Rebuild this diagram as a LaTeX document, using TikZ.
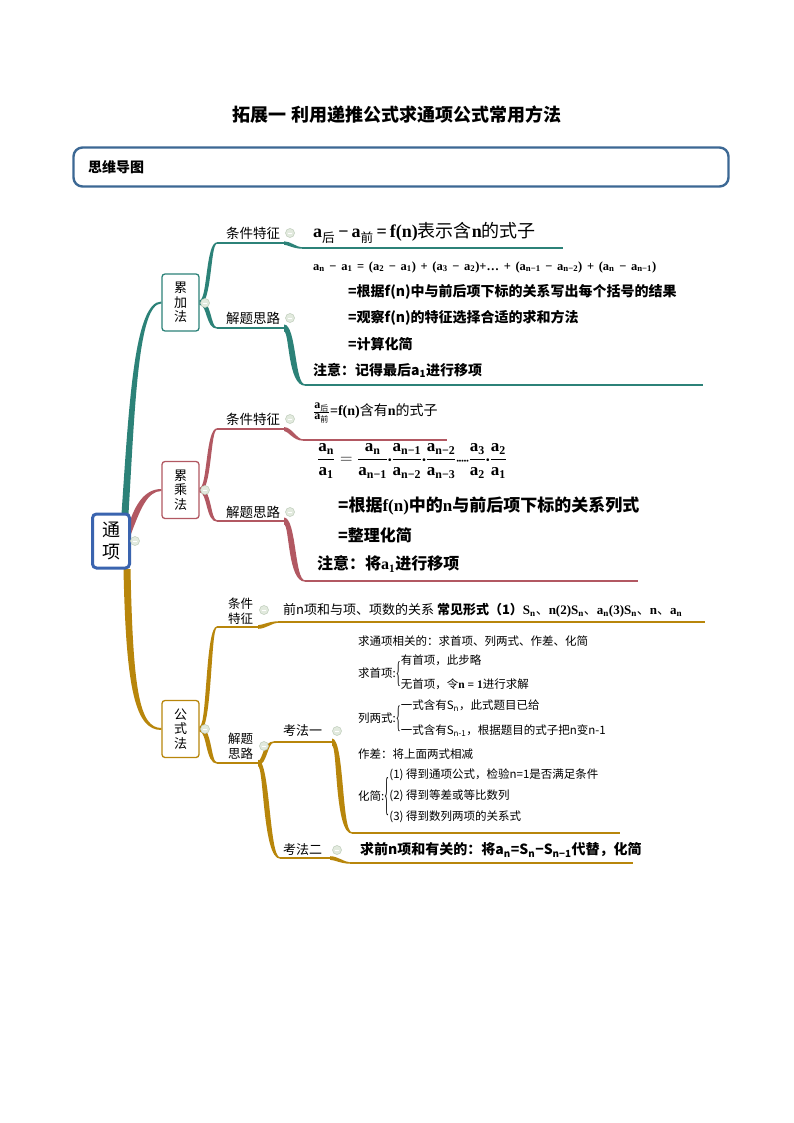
\documentclass[tikz,border=0pt]{standalone}
\usepackage{fontspec}
\usepackage{graphicx}
\setmainfont{Noto Sans CJK SC}
\newfontfamily\tms{Liberation Serif}
\usetikzlibrary{calc,backgrounds}
\newcommand\tb[1]{{\tms\bfseries #1}}
\newcommand\sbs[1]{\textsubscript{#1}}
\newcommand\an[1]{\mbox{\tb{a\sbs{#1}}}}
\newcommand\fsz[2]{\fontsize{#1}{#2}\selectfont}
\newcommand\mdot{\mbox{\fsz{10}{11}\tms\bfseries •}}
\newcommand\bigbr[1]{$\vcenter{\hbox{\scalebox{0.9}[#1]{\tms\{}}}$}
\newcommand\brlines[1]{$\vcenter{\hbox{\begin{tabular}{@{}l@{}}#1\end{tabular}}}$}
\definecolor{cteal}{RGB}{44,130,120}
\definecolor{cred}{RGB}{178,88,98}
\definecolor{cgold}{RGB}{184,134,11}
\definecolor{cblue}{RGB}{58,100,175}
\definecolor{chead}{RGB}{60,104,148}
\definecolor{cdot}{RGB}{226,234,222}
\definecolor{cdotb}{RGB}{190,204,186}
% tapered branch: color, from, to, c1 dx, c2 dx, half width, sign (1 up, -1 down)
\newcommand\tbr[7]{%
 \fill[#1] ($(#2)+(0,{-(#7)*(#6)})$) .. controls ($(#2)+({(#4)-(#6)},{-(#7)*(#6)})$) and ($(#3)+({(#5)-(#6)},{-(#7)*0.7})$) .. ($(#3)+(0,{-(#7)*0.7})$) -- ($(#3)+(0,{(#7)*0.7})$) .. controls ($(#3)+({(#5)+(#6)},{(#7)*0.7})$) and ($(#2)+({(#4)+(#6)},{(#7)*(#6)})$) .. ($(#2)+(0,{(#7)*(#6)})$) -- cycle;}
\tikzset{
 mapbox/.style={draw=#1, line width=1.3pt, rounded corners=3pt, fill=white, minimum width=37pt, minimum height=57pt, inner sep=0pt, align=center, font=\fsz{13}{14.5}},
 lbl/.style={inner sep=0pt, anchor=west, font=\fsz{13.5}{15}},
 txt/.style={inner sep=0pt, anchor=west},
 dot/.style={circle, minimum size=9pt, inner sep=0pt, fill=cdot, draw=cdotb, line width=0.5pt, path picture={\draw[white, line width=0.9pt] ([xshift=-2.4pt]path picture bounding box.center) -- ([xshift=2.4pt]path picture bounding box.center);}},
 uline/.style={draw=#1, line width=1.4pt},
}
\begin{document}
\begin{tikzpicture}[x=1pt,y=-1pt]
\useasboundingbox (0,0) rectangle (794,1123);
% title and header
\node[font=\fsz{18}{20}\bfseries, inner sep=0pt] (title) at (397,115) {拓展一 利用递推公式求通项公式常用方法};
\node[draw=chead, line width=2.4pt, rounded corners=9pt, fill=white, minimum width=655pt, minimum height=39pt, inner sep=0pt] (hdr) at (401,167) {};
\node[txt, font=\fsz{14}{16}\bfseries] (hdrt) at (88,167) {思维导图};
% root and main boxes
\node[draw=cblue, line width=3pt, rounded corners=4pt, fill=white, minimum width=37pt, minimum height=54pt, inner sep=0pt, align=center, font=\fsz{18}{22}] (tx) at (111,541) {通\\项};
\node[mapbox=cteal] (ljf) at (180.5,302.5) {累\\加\\法};
\node[mapbox=cred] (lcf) at (180.5,490) {累\\乘\\法};
\node[mapbox=cgold] (gsf) at (180.5,729) {公\\式\\法};
% coordinates
\coordinate (tT) at (125,514);
\coordinate (aA) at (217,243); \coordinate (aAe) at (284,243); \coordinate (aAl) at (302,248); \coordinate (aAf) at (563,248);
\coordinate (aB) at (217,328); \coordinate (aBe) at (284,328); \coordinate (aBl) at (305,385); \coordinate (aBf) at (703,385);
\coordinate (tR) at (129,528);
\coordinate (mA) at (217,429); \coordinate (mAe) at (284,429); \coordinate (mAl) at (303,440); \coordinate (mAf) at (447,440);
\coordinate (mB) at (217,521); \coordinate (mBe) at (284,521); \coordinate (mBl) at (305,581); \coordinate (mBf) at (638,581);
\coordinate (tG) at (127,569);
\coordinate (gA) at (217,627); \coordinate (gAe) at (258,627); \coordinate (gAl) at (278,622); \coordinate (gAf) at (705,622);
\coordinate (gB) at (217,763); \coordinate (gBe) at (258,763);
\coordinate (k1) at (274,742); \coordinate (k1e) at (332,742); \coordinate (k1l) at (352,833); \coordinate (k1f) at (620,833);
\coordinate (k2) at (280,858); \coordinate (k2e) at (330,858); \coordinate (k2l) at (350,863); \coordinate (k2f) at (633,863);
% labels
\node[lbl] (la1) at (226,233) {条件特征};
\node[lbl] (la2) at (226,318) {解题思路};
\node[lbl] (lm1) at (226,419) {条件特征};
\node[lbl] (lm2) at (226,512) {解题思路};
\node[inner sep=0pt, align=center, font=\fsz{12.5}{15.5}] (lg1) at (240.5,611) {条件\\特征};
\node[inner sep=0pt, align=center, font=\fsz{12.5}{15.5}] (lg2) at (240.5,746) {解题\\思路};
\node[lbl, font=\fsz{13}{15}] (lk1) at (283,731) {考法一};
\node[lbl, font=\fsz{13}{15}] (lk2) at (283,850) {考法二};
% teal texts
\node[txt] (t1) at (313,233) {\fsz{18}{20}\tb{a}\sbs{后}\,\tb{−}\,\tb{a}\sbs{前}\,\tb{=}\,\tb{f(n)}表示含\tb{n}的式子};
\node[txt] (t2) at (313,267) {\fsz{12.5}{14}\tms\bfseries\hbox to 343pt{a\sbs{n} − a\sbs{1} = (a\sbs{2} − a\sbs{1}) + (a\sbs{3} − a\sbs{2})+… + (a\sbs{n−1} − a\sbs{n−2}) + (a\sbs{n} − a\sbs{n−1})}};
\node[txt] (t3) at (348,292) {\fsz{14}{16}\bfseries =根据f(n)中与前后项下标的关系写出每个括号的结果};
\node[txt] (t4) at (348,318) {\fsz{14}{16}\bfseries =观察f(n)的特征选择合适的求和方法};
\node[txt] (t5) at (348,344) {\fsz{14}{16}\bfseries =计算化简};
\node[txt] (t6) at (313,370) {\fsz{14}{16}\bfseries 注意：记得最后a\sbs{1}进行移项};
% red texts
\node[txt] (r1) at (313,413) {\fsz{12}{14}$\frac{\mbox{\tb{a}\sbs{后}}}{\mbox{\tb{a}\sbs{前}}}$\fsz{14}{16}\tb{=f(n)}含有\tb{n}的式子};
\node[txt] (r2) at (317,461) {\fsz{17}{19}$\displaystyle\frac{\an{n}}{\an{1}}=\frac{\an{n}}{\an{n−1}}\mdot\frac{\an{n−1}}{\an{n−2}}\mdot\frac{\an{n−2}}{\an{n−3}}\mbox{\fsz{7}{8}\tms\bfseries •••••}\frac{\an{3}}{\an{2}}\mdot\frac{\an{2}}{\an{1}}$};
\node[txt] (r3) at (338,506) {\fsz{17}{19}\bfseries =根据\tb{f(n)}中的\tb{n}与前后项下标的关系列式};
\node[txt] (r4) at (338,535) {\fsz{16}{18}\bfseries =整理化简};
\node[txt] (r5) at (317,564) {\fsz{16}{18}\bfseries 注意：将\tb{a\sbs{1}}进行移项};
% gold texts
\node[txt] (g1) at (283,610) {\fsz{13}{15}前n项和与项、项数的关系 \textbf{常见形式（1）}\tb{S\sbs{n}}、\tb{n(2)S\sbs{n}}、\tb{a\sbs{n}(3)S\sbs{n}}、\tb{n}、\tb{a\sbs{n}}};
\node[txt] (q1) at (358,641) {\fsz{11.5}{14}求通项相关的：求首项、列两式、作差、化简};
\node[txt] (q2) at (358,674) {\fsz{11.5}{14}求首项:\bigbr{2.6}\brlines{有首项，此步略\\[10pt]无首项，令\tb{n = 1}进行求解}};
\node[txt] (q3) at (358,719) {\fsz{11.5}{14}列两式:\bigbr{2.7}\brlines{一式含有S\sbs{n}，此式题目已给\\[11pt]一式含有S\sbs{n-1}，根据题目的式子把n变n-1}};
\node[txt] (q4) at (358,754) {\fsz{11.5}{14}作差：将上面两式相减};
\node[txt] (q5) at (358,797) {\fsz{11.5}{14}化简:\bigbr{4}\brlines{(1) 得到通项公式，检验n=1是否满足条件\\[7pt](2) 得到等差或等比数列\\[7pt](3) 得到数列两项的关系式}};
\node[txt] (q6) at (360,850) {\fsz{14}{16}\bfseries 求前n项和有关的：将a\sbs{n}=S\sbs{n}−S\sbs{n−1}代替，化简};
% dots
\node[dot] (d0) at (135,541) {};
\node[dot] (d1) at (205,303) {};
\node[dot] (d2) at (290,233) {};
\node[dot] (d3) at (290,318) {};
\node[dot] (d4) at (205,490) {};
\node[dot] (d5) at (290,419) {};
\node[dot] (d6) at (290,512) {};
\node[dot] (d7) at (205,729) {};
\node[dot] (d8) at (264,610) {};
\node[dot] (d9) at (264,746) {};
\node[dot] (d10) at (337,731) {};
\node[dot] (d11) at (337,850) {};
\begin{pgfonlayer}{background}
\fill[white] (0,0) rectangle (794,1123);
% trunks from root
\fill[cteal] ($(tT)+(-3.5,0)$) .. controls ($(tT)+(4,-110)$) and ($(ljf.west)+(-27,-1)$) .. ($(ljf.west)+(0,-1)$) -- ($(ljf.west)+(0,1)$) .. controls ($(ljf.west)+(-23,1)$) and ($(tT)+(10,-110)$) .. ($(tT)+(3.5,0)$) -- cycle;
\fill[cred] ($(tR)+(0,-4)$) .. controls ($(tR)+(6,-23)$) and ($(lcf.west)+(-17,-1)$) .. ($(lcf.west)+(0,-1)$) -- ($(lcf.west)+(0,1)$) .. controls ($(lcf.west)+(-14,1)$) and ($(tR)+(11,-18)$) .. ($(tR)+(2,6)$) -- cycle;
\fill[cgold] ($(tG)+(-3.5,0)$) .. controls ($(tG)+(-1,121)$) and ($(gsf.west)+(-26,1)$) .. ($(gsf.west)+(0,1)$) -- ($(gsf.west)+(0,-1)$) .. controls ($(gsf.west)+(-22,-1)$) and ($(tG)+(6,121)$) .. ($(tG)+(3.5,0)$) -- cycle;
% teal branches
\tbr{cteal}{ljf.east}{aA}{10}{-9}{2.3}{1}
\draw[uline=cteal] (aA) -- (aAe);
\tbr{cteal}{aAe}{aAl}{5}{-7}{1.7}{-1}
\draw[uline=cteal] (aAl) -- (aAf);
\tbr{cteal}{ljf.east}{aB}{10}{-9}{2.3}{-1}
\draw[uline=cteal] (aB) -- (aBe);
\tbr{cteal}{aBe}{aBl}{9}{-14}{3.5}{-1}
\draw[uline=cteal] (aBl) -- (aBf);
% red branches
\tbr{cred}{lcf.east}{mA}{10}{-9}{2.3}{1}
\draw[uline=cred] (mA) -- (mAe);
\tbr{cred}{mAe}{mAl}{6}{-8}{1.9}{-1}
\draw[uline=cred] (mAl) -- (mAf);
\tbr{cred}{lcf.east}{mB}{10}{-9}{2.3}{-1}
\draw[uline=cred] (mB) -- (mBe);
\tbr{cred}{mBe}{mBl}{9}{-14}{3.5}{-1}
\draw[uline=cred] (mBl) -- (mBf);
% gold branches
\tbr{cgold}{gsf.east}{gA}{10}{-9}{2.6}{1}
\draw[uline=cgold] (gA) -- (gAe);
\tbr{cgold}{gAe}{gAl}{6}{-7}{1.8}{1}
\draw[uline=cgold] (gAl) -- (gAf);
\tbr{cgold}{gsf.east}{gB}{10}{-9}{2.6}{-1}
\draw[uline=cgold] (gB) -- (gBe);
\tbr{cgold}{gBe}{k1}{7}{-9}{2.2}{1}
\draw[uline=cgold] (k1) -- (k1e);
\tbr{cgold}{gBe}{k2}{9}{-14}{3.2}{-1}
\draw[uline=cgold] (k2) -- (k2e);
\tbr{cgold}{k1e}{k1l}{9}{-14}{3.5}{-1}
\draw[uline=cgold] (k1l) -- (k1f);
\tbr{cgold}{k2e}{k2l}{6}{-7}{1.8}{-1}
\draw[uline=cgold] (k2l) -- (k2f);
\end{pgfonlayer}
\end{tikzpicture}
\end{document}
